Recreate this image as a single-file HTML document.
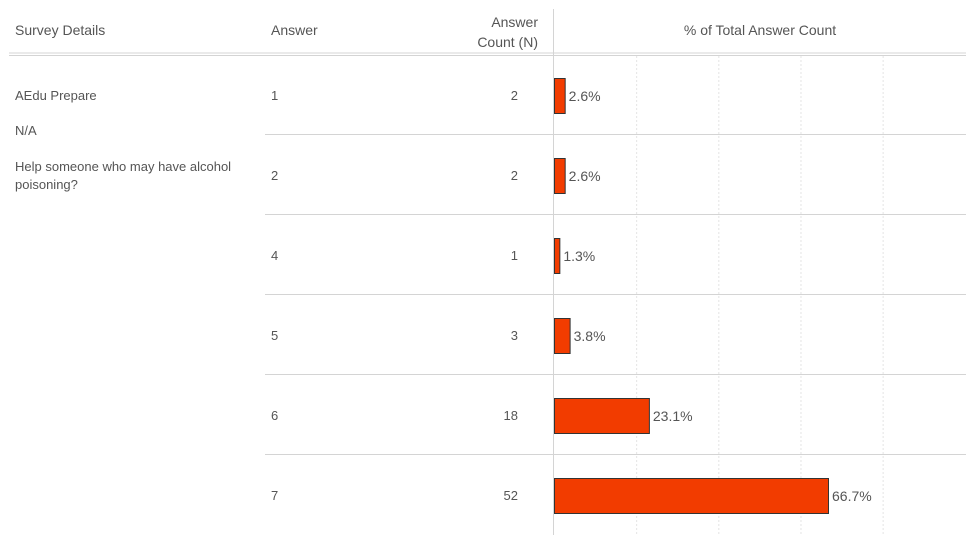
<!DOCTYPE html>
<html><head><meta charset="utf-8">
<style>
body{margin:0;background:#fff;font-family:"Liberation Sans",sans-serif;color:#555;}
#wrap{position:relative;width:966px;height:535px;overflow:hidden;}
.t{position:absolute;font-size:13px;white-space:nowrap;}
.h{font-size:14px;color:#555;}
</style></head>
<body>
<div id="wrap">
<svg id="svg" width="966" height="535" style="position:absolute;left:0;top:0"></svg>
<div class="t h" style="left:15px;top:22px">Survey Details</div>
<div class="t h" style="left:271px;top:22px">Answer</div>
<div class="t h" style="left:470px;top:12px;width:68px;text-align:right;line-height:20px;white-space:normal">Answer Count (N)</div>
<div class="t h" style="left:554px;top:22px;width:412px;text-align:center">% of Total Answer Count</div>
<div class="t" style="left:15px;top:88px">AEdu Prepare</div>
<div class="t" style="left:15px;top:123px">N/A</div>
<div class="t" style="left:15px;top:158px;line-height:18px;white-space:normal;width:240px">Help someone who may have alcohol poisoning?</div>
</div>
<script>
const answers=["1","2","4","5","6","7"];
const counts=[2,2,1,3,18,52];
const percents=[2.6,2.6,1.3,3.8,23.1,66.7];
const gridTicks=[20,40,60,80];
const svg=document.getElementById('svg');
const wrap=document.getElementById('wrap');
const NS="http://www.w3.org/2000/svg";
const x0=554, pxPer=274/66.7, rowTop=55, rowH=80;
const xs=v=>x0+v*pxPer;
function mk(tag,attrs){const e=document.createElementNS(NS,tag);for(const k in attrs)e.setAttribute(k,attrs[k]);svg.appendChild(e);return e;}
// header lines
let l=mk('line',{x1:9,x2:966,y1:53,y2:53,stroke:'#d4d4d4'});


l=mk('line',{x1:9,x2:966,y1:55.5,y2:55.5,stroke:'#d4d4d4'});


l=mk('line',{x1:553.5,x2:553.5,y1:9,y2:535,stroke:'#d4d4d4'});


gridTicks.forEach(g=>{
  const e=mk('line',{x1:xs(g)+0.5,x2:xs(g)+0.5,y1:56,y2:535,stroke:'#e4e4e4','stroke-dasharray':'2,2'});
  
  
});
answers.forEach((a,i)=>{
  const cy=rowTop+rowH*i+41;
  if(i>0){
    const s=mk('line',{x1:265,x2:966,y1:rowTop+rowH*i-0.5,y2:rowTop+rowH*i-0.5,stroke:'#d4d4d4'});
    
    
  }
  const b=mk('rect',{x:x0+0.5,y:cy-17.5,width:percents[i]*pxPer,height:35,fill:'#f23c00',stroke:'#333','stroke-width':1});
  
  
  const t=mk('text',{x:xs(percents[i])+4,y:cy+5,'font-size':14,fill:'#555','font-family':'Liberation Sans, sans-serif'});
  t.textContent=percents[i].toFixed(1)+'%';
  
  
  const d=document.createElement('div');
  d.className='t';d.style.left='271px';d.style.top=(cy-8)+'px';d.textContent=a;
  
  
  wrap.appendChild(d);
  const c=document.createElement('div');
  c.className='t';c.style.left='470px';c.style.width='48px';c.style.textAlign='right';c.style.top=(cy-8)+'px';c.textContent=counts[i];
  
  
  wrap.appendChild(c);
});
</script>
</body></html>
